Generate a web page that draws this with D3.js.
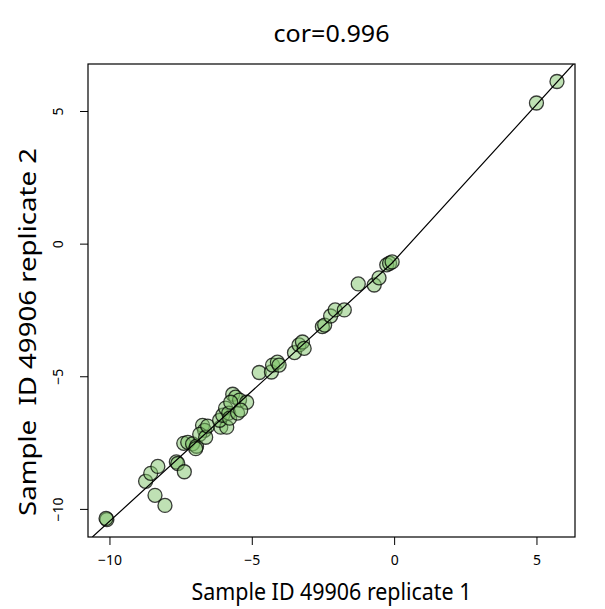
<!DOCTYPE html>
<html>
<head>
<meta charset="utf-8">
<script src="https://cdn.jsdelivr.net/npm/d3@7"></script>
<style>
  body { margin: 0; background: #fff; }
  text { font-family: "Noto Sans", "Open Sans", sans-serif; fill: #000; }
</style>
</head>
<body>
<div id="chart"></div>
<script>
// Data: replicate 1 (x) vs replicate 2 (y)
const rep1 = [-10.09, -10.12, -8.73, -8.55, -8.30, -8.40, -8.05, -7.65, -7.60, -7.37,
    -7.39, -7.25, -7.08, -6.94, -6.97, -6.73, -6.66, -6.83, -6.62, -6.55,
    -6.09, -5.88, -6.13, -6.02, -5.92, -5.81, -5.78, -5.50, -5.67, -5.57,
    -5.43, -5.74, -5.18, -5.39, -4.74, -4.31, -4.27, -4.10, -4.04, -3.50,
    -3.34, -3.22, -3.16, -2.52, -2.44, -2.23, -2.07, -1.75, -1.26, -0.70,
    -0.53, -0.26, -0.16, -0.07, 5.00, 5.72];
const rep2 = [-10.38, -10.34, -8.94, -8.64, -8.38, -9.47, -9.85, -8.21, -8.27, -8.58,
    -7.51, -7.47, -7.53, -7.62, -7.71, -6.83, -7.02, -7.17, -7.28, -6.86,
    -6.90, -6.90, -6.64, -6.45, -6.18, -6.37, -6.56, -6.37, -5.66, -5.77,
    -5.88, -5.96, -5.96, -6.26, -4.84, -4.82, -4.56, -4.45, -4.56, -4.09,
    -3.80, -3.69, -3.93, -3.11, -3.05, -2.71, -2.48, -2.48, -1.50, -1.54,
    -1.27, -0.78, -0.72, -0.67, 5.32, 6.13];
// trend line
const trendX = [-10.6, -0.08, 6.3];
const trendY = [-11.04, -0.72, 6.79];
const xTicks = [-10, -5, 0, 5];
const yTicks = [-10, -5, 0, 5];
const titleText = "cor=0.996";
const xLabel = "Sample ID 49906 replicate 1";
const yLabel = "Sample  ID 49906 replicate 2";

const width = 605, height = 609;
const box = {left: 88, right: 575, top: 64, bottom: 537};

// R style 4% padding around the data range
function padded(vals) {
    const [lo, hi] = d3.extent(vals);
    const p = (hi - lo) * 0.04;
    return [lo - p, hi + p];
}

const x = d3.scaleLinear().domain(padded(rep1)).range([box.left, box.right]);
const y = d3.scaleLinear().domain(padded(rep2)).range([box.bottom, box.top]);

const svg = d3.select("#chart").append("svg")
    .attr("width", width)
    .attr("height", height);

svg.append("clipPath").attr("id", "plotclip")
    .append("rect")
    .attr("x", box.left).attr("y", box.top)
    .attr("width", box.right - box.left).attr("height", box.bottom - box.top);

const points = rep1.map((d, i) => ({x: d, y: rep2[i]}));

const g = svg.append("g").attr("clip-path", "url(#plotclip)");

g.selectAll("circle")
    .data(points)
    .join("circle")
    .attr("cx", d => x(d.x))
    .attr("cy", d => y(d.y))
    .attr("r", 7)
    .attr("fill", "#7fc46a")
    .attr("fill-opacity", 0.5)
    .attr("stroke", "#000")
    .attr("stroke-opacity", 0.75)
    .attr("stroke-width", 1.3);

const trendLine = d3.line()
    .x(d => x(d[0]))
    .y(d => y(d[1]));

g.append("path")
    .datum(trendX.map((d, i) => [d, trendY[i]]))
    .attr("d", trendLine)
    .attr("fill", "none")
    .attr("stroke", "#000")
    .attr("stroke-width", 1.2);

// box
svg.append("rect")
    .attr("x", box.left).attr("y", box.top)
    .attr("width", box.right - box.left).attr("height", box.bottom - box.top)
    .attr("fill", "none")
    .attr("stroke", "#000")
    .attr("stroke-width", 1.2);

// axes
const xAxis = svg.append("g")
    .attr("transform", `translate(0,${box.bottom})`)
    .call(d3.axisBottom(x).tickValues(xTicks).tickSize(8).tickPadding(10).tickSizeOuter(0));
xAxis.select(".domain").remove();
xAxis.selectAll("text").style("font-size", "14px");

const yAxis = svg.append("g")
    .attr("transform", `translate(${box.left},0)`)
    .call(d3.axisLeft(y).tickValues(yTicks).tickSize(8).tickSizeOuter(0));
yAxis.select(".domain").remove();
yAxis.selectAll(".tick").attr("transform", null);
yAxis.selectAll(".tick line").attr("y1", d => y(d)).attr("y2", d => y(d));
yAxis.selectAll("text")
    .style("font-size", "14px")
    .attr("x", null).attr("dy", null).attr("y", null)
    .attr("text-anchor", "middle")
    .attr("transform", d => `translate(-25,${y(d)}) rotate(-90)`);

// titles
svg.append("text")
    .attr("x", (box.left + box.right) / 2)
    .attr("y", 42)
    .attr("text-anchor", "middle")
    .attr("textLength", 116)
    .attr("lengthAdjust", "spacingAndGlyphs")
    .style("font-size", "24px")
    .text(titleText);

svg.append("text")
    .attr("x", (box.left + box.right) / 2)
    .attr("y", 600)
    .attr("text-anchor", "middle")
    .attr("textLength", 280)
    .attr("lengthAdjust", "spacingAndGlyphs")
    .style("font-size", "24px")
    .text(xLabel);

svg.append("text")
    .attr("transform", `translate(36,332) rotate(-90)`)
    .attr("text-anchor", "middle")
    .attr("textLength", 368)
    .attr("lengthAdjust", "spacingAndGlyphs")
    .style("font-size", "24px")
    .style("white-space", "pre")
    .text(yLabel);
</script>
</body>
</html>
